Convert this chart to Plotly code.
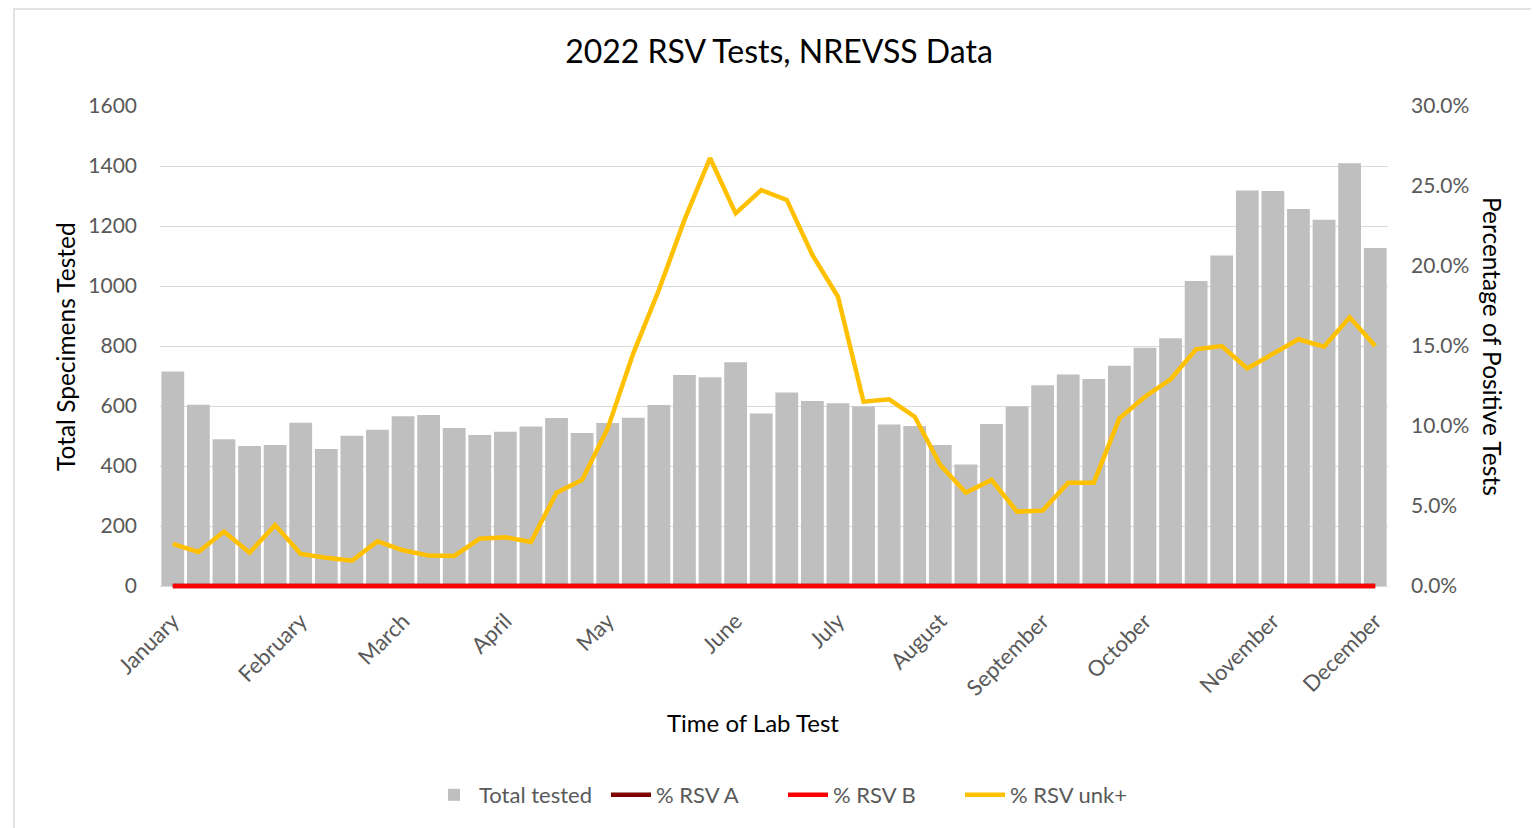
import plotly.graph_objects as go

weeks = list(range(1, 49))

total_tested = [715, 604, 489, 467, 470, 544, 457, 501, 521, 566, 570, 527,
                503, 514, 532, 560, 510, 543, 561, 603, 703, 696, 746, 575,
                645, 617, 609, 598, 538, 533, 470, 405, 540, 598, 669, 705,
                690, 734, 794, 826, 1017, 1102, 1318, 1317, 1257, 1221, 1409, 1127]

pct_rsv_a = [0, 0, 0, 0, 0, 0, 0, 0, 0, 0, 0, 0,
             0, 0, 0, 0, 0, 0, 0, 0, 0, 0, 0, 0,
             0, 0, 0, 0, 0, 0, 0, 0, 0, 0, 0, 0,
             0, 0, 0, 0, 0, 0, 0, 0, 0, 0, 0, 0]

pct_rsv_b = [0, 0, 0, 0, 0, 0, 0, 0, 0, 0, 0, 0,
             0, 0, 0, 0, 0, 0, 0, 0, 0, 0, 0, 0,
             0, 0, 0, 0, 0, 0, 0, 0, 0, 0, 0, 0,
             0, 0, 0, 0, 0, 0, 0, 0, 0, 0, 0, 0]

pct_rsv_unk = [2.63, 2.13, 3.40, 2.08, 3.81, 2.00, 1.77, 1.58, 2.79, 2.23, 1.90, 1.88,
               2.96, 3.04, 2.75, 5.83, 6.63, 9.85, 14.54, 18.5, 22.88, 26.75, 23.29, 24.75,
               24.13, 20.69, 18.08, 11.52, 11.67, 10.58, 7.56, 5.83, 6.63, 4.65, 4.71, 6.46,
               6.46, 10.48, 11.83, 12.92, 14.79, 15.0, 13.6, 14.54, 15.42, 14.96, 16.79, 15.0]

month_weeks = [1, 6, 10, 14, 18, 23, 27, 31, 35, 39, 44, 48]
month_labels = ["January", "February", "March", "April", "May", "June", "July",
                "August", "September", "October", "November", "December"]

left_ticks = [0, 200, 400, 600, 800, 1000, 1200, 1400, 1600]
right_ticks = [0, 5, 10, 15, 20, 25, 30]
right_tick_labels = ["0.0%", "5.0%", "10.0%", "15.0%", "20.0%", "25.0%", "30.0%"]

FONT = "Lato"
GRAY_TXT = "#595959"

# page is offset by the default 8px body margin
OFF = 8
W, H = 1539 - OFF, 828 - OFF
PLOT_L, PLOT_R, PLOT_T, PLOT_B = 160, 1388, 106, 589  # page pixels
L = PLOT_L - OFF
T = PLOT_T - OFF
R = W - (PLOT_R - OFF)
B = H - (PLOT_B - OFF)
PW = PLOT_R - PLOT_L
PH = PLOT_B - PLOT_T


def px(x):
    return (x - PLOT_L) / PW


def py(y):
    return (PLOT_B - y) / PH


fig = go.Figure()
fig.add_trace(go.Bar(x=weeks, y=total_tested, name="Total tested",
                     marker=dict(color="#bfbfbf", line=dict(width=0)), yaxis="y"))
fig.add_trace(go.Scatter(x=weeks, y=pct_rsv_a, name="% RSV A", mode="lines",
                         line=dict(color="#7f0000", width=4.5), yaxis="y2"))
fig.add_trace(go.Scatter(x=weeks, y=pct_rsv_b, name="% RSV B", mode="lines",
                         line=dict(color="#ff0000", width=4.5), yaxis="y2"))
fig.add_trace(go.Scatter(x=weeks, y=pct_rsv_unk, name="% RSV unk+", mode="lines",
                         line=dict(color="#ffc000", width=4.5), yaxis="y2"))

ymin_left = -10
fig.update_layout(
    width=W, height=H,
    margin=dict(l=L, r=R, t=T, b=B, pad=0),
    paper_bgcolor="white", plot_bgcolor="white",
    font=dict(family=FONT, color=GRAY_TXT, size=21),
    bargap=0.11,
    title=dict(text="2022 RSV Tests, NREVSS Data", x=px(779), xanchor="center",
               xref="paper", y=1 - (52 - OFF) / H, yanchor="middle",
               font=dict(family=FONT, size=32, color="#000000")),
    xaxis=dict(range=[0.5, 48.5], tickmode="array", tickvals=month_weeks,
               ticktext=month_labels, tickangle=-45, showgrid=False,
               zeroline=False, showline=False, ticks="", ticklabelstandoff=14,
               tickfont=dict(size=22, color=GRAY_TXT)),
    yaxis=dict(range=[ymin_left, 1600], tickmode="array", tickvals=left_ticks,
               showgrid=True, gridcolor="#d9d9d9", gridwidth=1.3, zeroline=False,
               showline=False, ticks="", ticklabelstandoff=22,
               tickfont=dict(size=21, color=GRAY_TXT)),
    yaxis2=dict(range=[ymin_left / 1600 * 30, 30], overlaying="y", side="right",
                tickmode="array", tickvals=right_ticks, ticktext=right_tick_labels,
                showgrid=False, zeroline=False, showline=False, ticks="",
                ticklabelstandoff=22, tickfont=dict(size=21, color=GRAY_TXT)),
    legend=dict(orientation="h", x=px(783), xanchor="center", y=py(795), yanchor="middle",
                font=dict(size=22, color=GRAY_TXT), itemwidth=40, traceorder="normal",
                entrywidth=122, entrywidthmode="pixels",
                bgcolor="rgba(0,0,0,0)"),
    showlegend=True,
)

fig.add_annotation(text="Total Specimens Tested", xref="paper", yref="paper",
                   x=px(65), y=py(346), textangle=-90, showarrow=False,
                   xanchor="center", yanchor="middle",
                   font=dict(family=FONT, size=24.5, color="#000000"))
fig.add_annotation(text="Percentage of Positive Tests", xref="paper", yref="paper",
                   x=px(1493), y=py(346), textangle=90, showarrow=False,
                   xanchor="center", yanchor="middle",
                   font=dict(family=FONT, size=24.5, color="#000000"))
fig.add_annotation(text="Time of Lab Test", xref="paper", yref="paper",
                   x=px(753), y=py(722), showarrow=False,
                   xanchor="center", yanchor="middle",
                   font=dict(family=FONT, size=24, color="#000000"))

fig.add_shape(type="rect", xref="paper", yref="paper",
              x0=px(14), x1=px(1560), y0=py(860), y1=py(9),
              line=dict(color="#d9d9d9", width=1.5), fillcolor="rgba(0,0,0,0)",
              layer="below")

fig.write_html("out.html")
